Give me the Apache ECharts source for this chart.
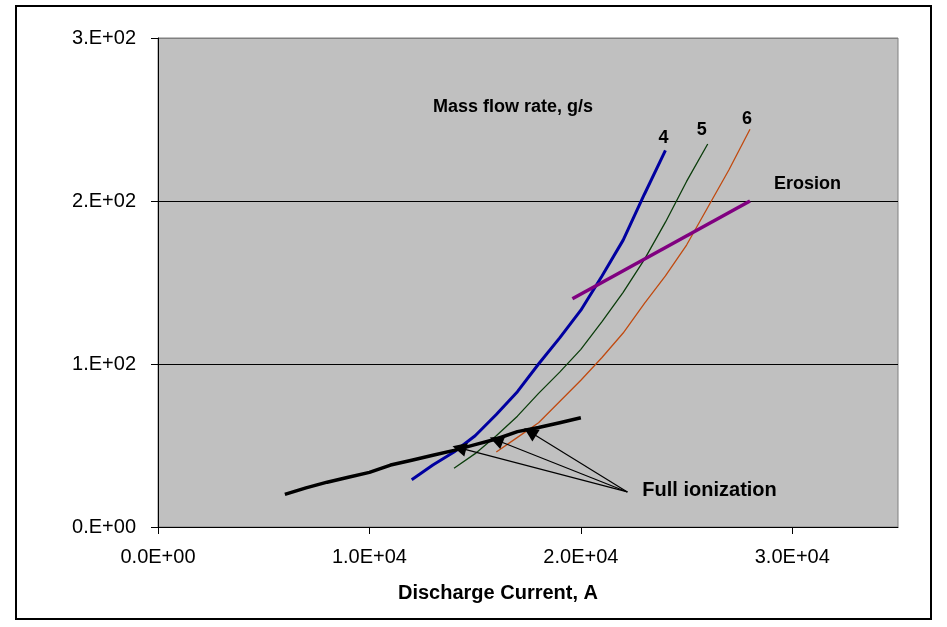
<!DOCTYPE html>
<html>
<head>
<meta charset="utf-8">
<script src="https://cdn.jsdelivr.net/npm/echarts@6/dist/echarts.min.js"></script>
<style>
html,body{margin:0;padding:0;background:#fff;}
#chart{width:947px;height:627px;}
</style>
</head>
<body>
<div id="chart"></div>
<script>
// ---- data ----
var xTickValues = [0, 10000, 20000, 30000];
var xTickLabels = ['0.0E+00', '1.0E+04', '2.0E+04', '3.0E+04'];
var yTickValues = [0, 100, 200, 300];
var yTickLabels = ['0.E+00', '1.E+02', '2.E+02', '3.E+02'];

var flow4X = [12000,13000,14000,15000,16000,17000,18000,19000,20000,21000,22000,23000,24000];
var flow4Y = [29,38,46,56,69,83,100,116,133,154,176,204,231];

var flow5X = [14000,15000,16000,17000,18000,19000,20000,21000,22000,23000,24000,25000,26000];
var flow5Y = [36,45,56,68,82,95,109,126,144,164,187,212,235];

var flow6X = [16000,17000,18000,19000,20000,21000,22000,23000,24000,25000,26000,27000,28000];
var flow6Y = [46,55,64,77,90,104,119,137,154,173,196,219,244];

var erosionX = [19600, 28000];
var erosionY = [140, 200];

var ionX = [6000,7000,8000,9000,10000,11000,12000,13000,14000,15000,16000,17000,18000,19000,20000];
var ionY = [20,24,27.5,30.5,33.5,38,41,44,47,50.5,54,58.5,61,64,67];

var arrowTail = [22200, 21.5];
var arrowTips = [[14250, 48.5], [16000, 53.4], [17600, 58.3]];

var seriesNames = ['4', '5', '6', 'Erosion', 'Full ionization'];
var noteText = 'Mass flow rate, g/s';
var xName = 'Discharge Current, A';

// ---- chart ----
function pairs(xs, ys){ return xs.map(function(x,i){ return [x, ys[i]]; }); }
var FONT = '"Liberation Sans", Arial, sans-serif';

function endNote(xs, ys, text, offset, align, size){
  var n = xs.length - 1;
  return {
    silent: true,
    symbol: 'circle', symbolSize: 0,
    data: [{ coord: [xs[n], ys[n]] }],
    label: { show: true, position: 'inside', formatter: text, offset: offset,
      align: align || 'center', verticalAlign: 'middle',
      color: '#000', fontFamily: FONT, fontWeight: 'bold', fontSize: size || 18 }
  };
}

var chart = echarts.init(document.getElementById('chart'), null, {renderer: 'canvas'});
var option = {
  animation: false,
  backgroundColor: '#ffffff',
  grid: { left: 158, top: 38, width: 740, height: 489, show: true,
          backgroundColor: '#C0C0C0', borderColor: '#808080', borderWidth: 1 },
  xAxis: {
    type: 'value', min: 0, max: 35000, interval: 10000,
    name: xName, nameLocation: 'middle', nameGap: 56,
    nameTextStyle: { color: '#000', fontFamily: FONT, fontWeight: 'bold', fontSize: 20, padding: [0, 60, 0, 0] },
    axisLine: { show: true, onZero: false, lineStyle: { color: '#000', width: 1 } },
    axisTick: { show: true, inside: false, length: 7, customValues: xTickValues, lineStyle: { color: '#000' } },
    axisLabel: { customValues: xTickValues, margin: 20, color: '#000', fontFamily: FONT, fontSize: 20,
      formatter: function(v){ var i = xTickValues.indexOf(v); return i >= 0 ? xTickLabels[i] : ''; } },
    splitLine: { show: false }
  },
  yAxis: {
    type: 'value', min: 0, max: 300, interval: 100,
    axisLine: { show: true, onZero: false, lineStyle: { color: '#000', width: 1 } },
    axisTick: { show: true, inside: false, length: 7, lineStyle: { color: '#000' } },
    axisLabel: { margin: 22, color: '#000', fontFamily: FONT, fontSize: 20,
      formatter: function(v){ var i = yTickValues.indexOf(v); return i >= 0 ? yTickLabels[i] : ''; } },
    splitLine: { show: true, lineStyle: { color: ['#000', '#000', '#000', '#808080'], width: 1 } }
  },
  series: [
    { name: seriesNames[0], type: 'line', data: pairs(flow4X, flow4Y), showSymbol: false, symbol: 'none',
      lineStyle: { color: '#0000A0', width: 3 }, z: 2,
      markPoint: endNote(flow4X, flow4Y, seriesNames[0], [-2, -12]) },
    { name: seriesNames[1], type: 'line', data: pairs(flow5X, flow5Y), showSymbol: false, symbol: 'none',
      lineStyle: { color: '#0B3D0B', width: 1.3 }, z: 2,
      markPoint: endNote(flow5X, flow5Y, seriesNames[1], [-6, -14]) },
    { name: seriesNames[2], type: 'line', data: pairs(flow6X, flow6Y), showSymbol: false, symbol: 'none',
      lineStyle: { color: '#C04A10', width: 1.3 }, z: 2,
      markPoint: endNote(flow6X, flow6Y, seriesNames[2], [-3, -10]) },
    { name: seriesNames[3], type: 'line', data: pairs(erosionX, erosionY), showSymbol: false, symbol: 'none',
      lineStyle: { color: '#800080', width: 3.5 }, z: 3,
      markPoint: endNote(erosionX, erosionY, seriesNames[3], [24, -17], 'left', 18) },
    { name: seriesNames[4], type: 'line', data: pairs(ionX, ionY), showSymbol: false, symbol: 'none',
      lineStyle: { color: '#000', width: 3.5 }, z: 4,
      markLine: {
        silent: true, symbol: ['none', 'triangle'], symbolSize: 14,
        label: { show: false },
        lineStyle: { color: '#000', width: 1.2, type: 'solid' },
        data: arrowTips.map(function(t){ return [{ coord: arrowTail }, { coord: t }]; })
      },
      markPoint: {
        silent: true, symbol: 'circle', symbolSize: 0,
        data: [{ coord: arrowTail }],
        label: { show: true, position: 'inside', formatter: seriesNames[4], offset: [15, -1],
          align: 'left', verticalAlign: 'middle', color: '#000', fontFamily: FONT, fontWeight: 'bold', fontSize: 20 }
      }
    }
  ],
  graphic: [
    { type: 'rect', shape: { x: 16, y: 6, width: 915, height: 613 },
      style: { fill: 'none', stroke: '#000', lineWidth: 2 }, z: 100, silent: true },
    { type: 'text', left: 433, top: 98, z: 100, silent: true,
      style: { text: noteText, fill: '#000', font: 'bold 18px ' + FONT } }
  ]
};
chart.setOption(option);
</script>
</body>
</html>
